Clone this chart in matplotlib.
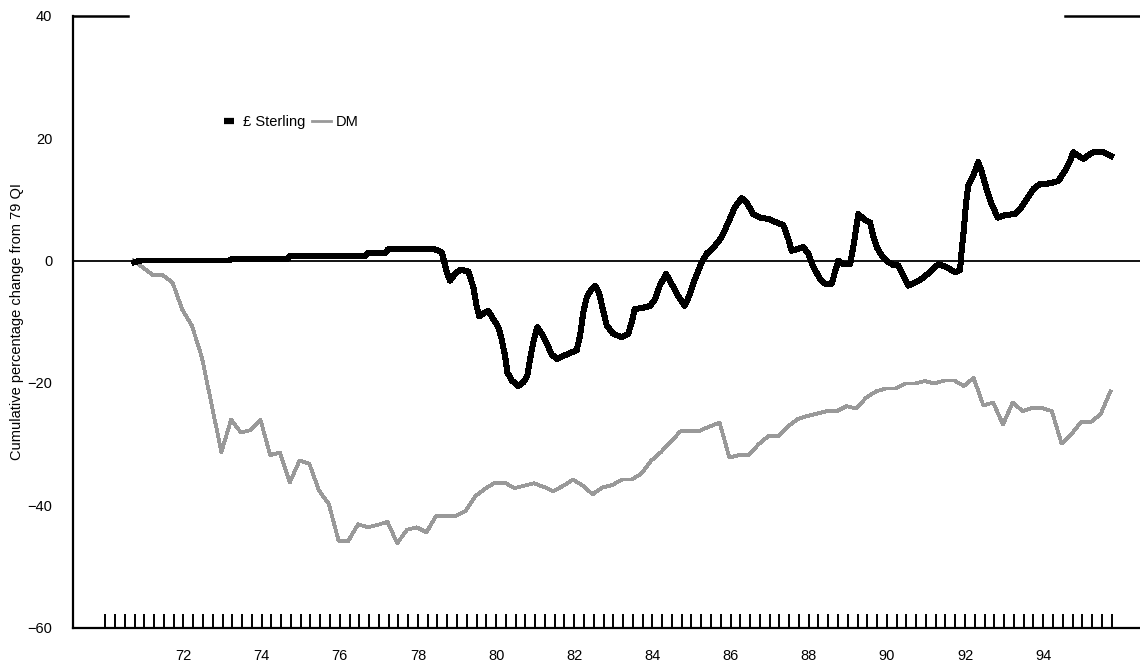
import numpy as np
import matplotlib.pyplot as plt
from matplotlib.lines import Line2D

plt.rcParams['font.family'] = ['Liberation Sans', 'DejaVu Sans']
plt.rcParams['font.size'] = 10.5

# DM: quarterly, first point at 1970.72
dm_start = 1970.72
dm_values = [
    0.0, -1.2, -2.4, -2.4, -3.6, -8.0, -10.7, -15.8, -23.5, -31.3,
    -26.0, -28.1, -27.7, -26.0, -31.8, -31.4, -36.3, -32.7, -33.2, -37.6,
    -39.8, -45.8, -45.8, -43.1, -43.6, -43.2, -42.7, -46.2, -44.0, -43.6,
    -44.4, -41.7, -41.7, -41.7, -40.9, -38.5, -37.3, -36.3, -36.3, -37.2,
    -36.8, -36.4, -37.0, -37.7, -36.8, -35.8, -36.8, -38.2, -37.1, -36.7,
    -35.8, -35.8, -34.8, -32.7, -31.3, -29.6, -27.9, -27.8, -27.8, -27.1,
    -26.5, -32.2, -31.8, -31.8, -30.0, -28.7, -28.7, -27.1, -25.9, -25.4,
    -25.0, -24.6, -24.6, -23.8, -24.2, -22.4, -21.4, -20.9, -20.9, -20.1,
    -20.1, -19.7, -20.1, -19.6, -19.6, -20.5, -19.2, -23.7, -23.2, -26.8,
    -23.2, -24.6, -24.1, -24.1, -24.6, -29.9, -28.4, -26.4, -26.4, -25.1,
    -21.4,
]
dm_years = dm_start + 0.25 * np.arange(len(dm_values))

# £ Sterling: turning points (decimal years, % change)
gbp_years = [
    1970.74, 1970.91, 1973.19, 1973.24, 1974.68, 1974.73, 1976.67, 1976.72,
    1977.18, 1977.23, 1978.44, 1978.61, 1978.74, 1978.82, 1978.95, 1979.08,
    1979.29, 1979.42, 1979.50, 1979.57, 1979.67, 1979.80, 1979.93, 1980.06,
    1980.14, 1980.23, 1980.29, 1980.40, 1980.57, 1980.70, 1980.80, 1980.87,
    1980.95, 1981.05, 1981.17, 1981.30, 1981.42, 1981.55, 1981.72, 1981.93,
    1982.06, 1982.15, 1982.23, 1982.32, 1982.42, 1982.53, 1982.63, 1982.73,
    1982.83, 1983.00, 1983.21, 1983.38, 1983.47, 1983.55, 1983.73, 1983.94,
    1984.07, 1984.19, 1984.35, 1984.49, 1984.66, 1984.83, 1984.96, 1985.09,
    1985.26, 1985.39, 1985.60, 1985.77, 1985.94, 1986.11, 1986.28, 1986.41,
    1986.58, 1986.75, 1986.97, 1987.18, 1987.35, 1987.48, 1987.56, 1987.73,
    1987.86, 1987.99, 1988.12, 1988.29, 1988.42, 1988.59, 1988.67, 1988.76,
    1988.88, 1989.06, 1989.16, 1989.27, 1989.40, 1989.57, 1989.65, 1989.74,
    1989.87, 1990.04, 1990.16, 1990.29, 1990.42, 1990.55, 1990.72, 1990.89,
    1991.10, 1991.32, 1991.53, 1991.74, 1991.87, 1991.91, 1991.97, 1992.02,
    1992.08, 1992.21, 1992.34, 1992.43, 1992.55, 1992.68, 1992.84, 1993.02,
    1993.28, 1993.41, 1993.58, 1993.75, 1993.92, 1994.17, 1994.39, 1994.56,
    1994.69, 1994.77, 1994.90, 1995.03, 1995.20, 1995.33, 1995.54, 1995.73,
]
gbp_values = [
    -0.3, 0.0, 0.0, 0.3, 0.3, 0.8, 0.8, 1.3,
    1.3, 1.8, 1.8, 1.35, -1.9, -3.3, -2.2, -1.5,
    -1.8, -4.4, -7.4, -9.1, -8.7, -8.2, -9.6, -10.9,
    -12.8, -15.6, -18.3, -19.6, -20.5, -19.9, -18.8, -16.1,
    -13.4, -10.9, -12.0, -13.6, -15.3, -16.1, -15.6, -15.0,
    -14.7, -12.3, -8.5, -6.0, -4.9, -4.1, -5.2, -7.9,
    -10.6, -12.0, -12.5, -12.0, -10.1, -7.9, -7.8, -7.4,
    -6.3, -4.1, -2.2, -3.8, -5.8, -7.4, -5.5, -3.0,
    -0.3, 1.1, 2.4, 3.8, 6.2, 8.7, 10.2, 9.5,
    7.6, 7.0, 6.8, 6.2, 5.8, 3.5, 1.6, 1.9,
    2.2, 1.1, -1.1, -3.0, -3.8, -3.8, -1.9, 0.0,
    -0.6, -0.6, 3.0, 7.6, 6.8, 6.2, 4.0, 2.2,
    0.8, -0.3, -0.7, -0.8, -2.5, -4.1, -3.6, -3.0,
    -1.9, -0.6, -1.1, -1.9, -1.6, 1.3, 5.1, 9.0,
    12.2, 13.9, 16.1, 14.4, 11.7, 9.2, 7.0, 7.4,
    7.6, 8.4, 10.0, 11.7, 12.5, 12.6, 13.0, 14.7,
    16.3, 17.7, 17.1, 16.6, 17.4, 17.8, 17.7, 17.1,
]

year_labels = ['72', '74', '76', '78', '80', '82', '84', '86', '88', '90', '92', '94']
label_years = [1972, 1974, 1976, 1978, 1980, 1982, 1984, 1986, 1988, 1990, 1992, 1994]
quarter_ticks = 1970 + 0.25 * np.arange(104)
y_ticks = [-60, -40, -20, 0, 20, 40]

W, H = 1140, 661
fig = plt.figure(figsize=(W / 100, H / 100), dpi=100)
ax = fig.add_axes([73 / W, (H - 627.7) / H, (W - 73) / W, (627.7 - 15.7) / H])

ax.axhline(0, color='black', lw=1.3, zorder=1)
ax.plot(dm_years, dm_values, color='#999999', lw=2.0, antialiased=False, zorder=2)
ax.plot(gbp_years, gbp_values, color='black', lw=3.6, antialiased=False, zorder=3)

ax.set_xlim(1969.174, 1996.477)
ax.set_ylim(-60, 40)

# bits of the top frame that show at both ends
ax.axhline(40, xmin=0, xmax=(128 - 73) / (W - 73), color='black', lw=1.8, clip_on=False)
ax.axhline(40, xmin=(1065 - 73) / (W - 73), xmax=1, color='black', lw=1.8, clip_on=False)

for side in ['top', 'right']:
    ax.spines[side].set_visible(False)
for side in ['left', 'bottom']:
    ax.spines[side].set_linewidth(1.6)

ax.xaxis.remove_overlapping_locs = False
ax.set_xticks(label_years)
ax.set_xticklabels(year_labels)
ax.set_xticks(quarter_ticks, minor=True)
ax.tick_params(axis='x', which='major', length=0, pad=15)
ax.tick_params(axis='x', which='minor', direction='in', length=10, width=1.4)

ax.set_yticks(y_ticks)
ax.tick_params(axis='y', length=0, pad=15)

ax.set_ylabel('Cumulative percentage change from 79 QI', fontsize=10.5)
ax.yaxis.set_label_coords((24 - 73) / (W - 73), 0.5)

handles = [
    Line2D([], [], color='black', marker='_', markersize=7.5, markeredgewidth=4.5, linestyle='none'),
    Line2D([], [], color='#999999', lw=2.0),
]
ax.legend(handles, ['£ Sterling', 'DM'], ncol=2, frameon=False,
          loc='center left', bbox_to_anchor=((212 - 73) / (W - 73), (627.7 - 122) / 612),
          borderpad=0, handlelength=1.3, handletextpad=0.3, columnspacing=0.5,
          fontsize=10.5)

fig.savefig('out.png', dpi=100)
